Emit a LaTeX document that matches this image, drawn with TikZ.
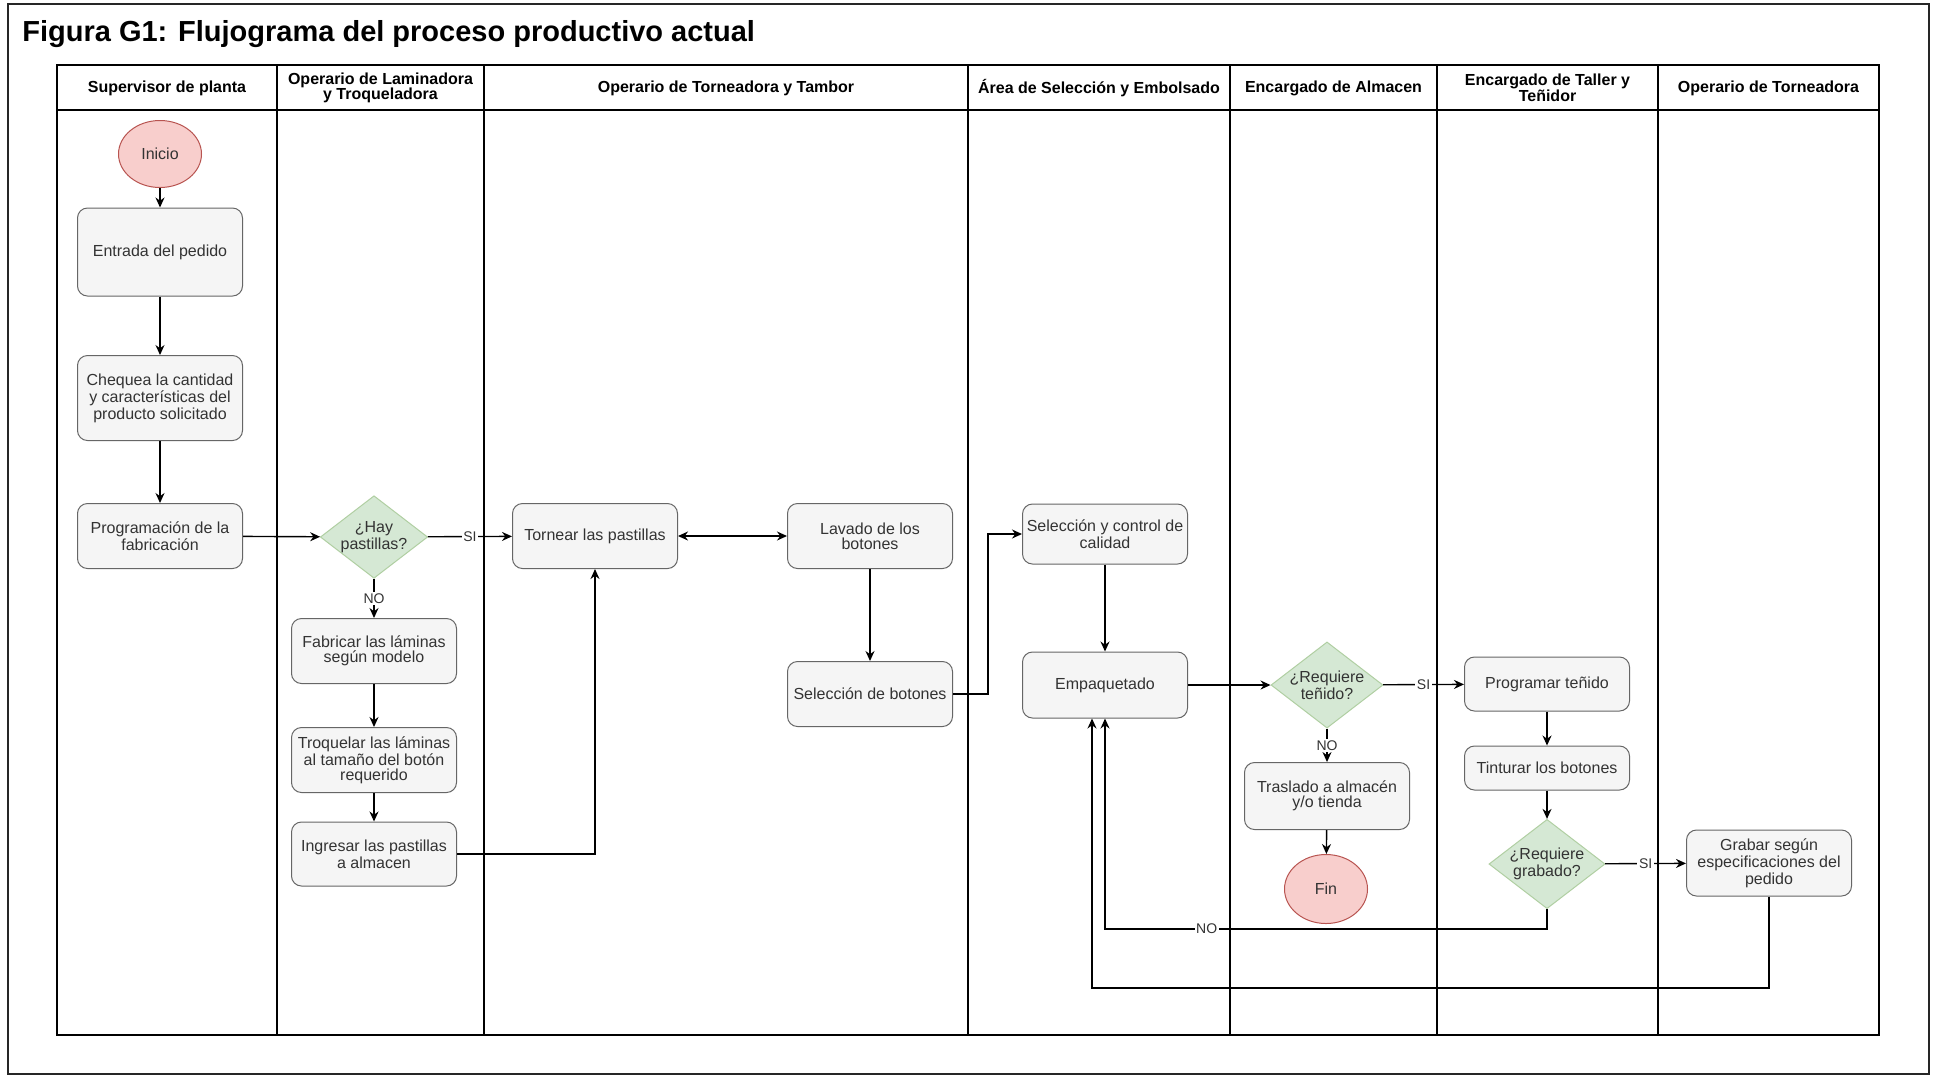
\documentclass[tikz,border=0pt]{standalone}
\usepackage{fontspec}
\setmainfont{Liberation Sans}
\usetikzlibrary{shapes.geometric,arrows.meta}
\definecolor{boxfill}{HTML}{F5F5F5}
\definecolor{boxdraw}{HTML}{666666}
\definecolor{txt}{HTML}{333333}
\definecolor{pinkfill}{HTML}{F8CECC}
\definecolor{pinkdraw}{HTML}{B85450}
\definecolor{greenfill}{HTML}{D5E8D4}
\definecolor{greendraw}{HTML}{B0CFA2}
\begin{document}
\begin{tikzpicture}[x=0.5pt,y=-0.5pt,
  proc/.style={draw=boxdraw, fill=boxfill, rounded corners=5pt, line width=0.5pt,
    minimum width=82.5pt, align=center, text=txt, inner sep=1pt,
    font=\fontsize{8}{7.3}\selectfont},
  term/.style={ellipse, draw=pinkdraw, fill=pinkfill, line width=0.5pt,
    minimum width=41.5pt, minimum height=33.5pt, inner sep=0pt, text=txt,
    font=\fontsize{8}{7.3}\selectfont},
  decis/.style={diamond, shape aspect=1.3, draw=greendraw, fill=greenfill, line width=0.5pt,
    minimum width=51pt, minimum height=40pt, inner sep=0pt, align=center, text=txt,
    font=\fontsize{8}{7.3}\selectfont},
  lanehead/.style={align=center, font=\bfseries\fontsize{8}{7.8}\selectfont},
  arr/.style={-{Stealth[length=5pt,width=4.5pt]}, line width=0.7pt},
  dbl/.style={{Stealth[length=5pt,width=4.5pt]}-{Stealth[length=5pt,width=4.5pt]}, line width=0.7pt},
  lbl/.style={fill=white, inner sep=0.8pt, font=\fontsize{7}{7}\selectfont, text=txt},
  lane/.style={line width=0.75pt}
]
\useasboundingbox (0,0) rectangle (1936,1078);
\fill[white] (0,0) rectangle (1936,1078);
% outer frame
\draw[line width=0.8pt, black!85] (8,4) rectangle (1929,1074);
\node[anchor=west, inner sep=0pt, font=\bfseries\fontsize{14.5}{14.5}\selectfont] (title) at (22,34) {Figura G1: Flujograma del proceso productivo actual};

% swimlanes
\draw[lane] (57,65) rectangle (1879,1035);
\draw[lane] (57,110) -- (1879,110);
\foreach \xx in {277,484,968,1230,1437,1658} \draw[lane] (\xx,65) -- (\xx,1035);
\node[lanehead] (h1) at (167,88) {Supervisor de planta};
\node[lanehead] (h2) at (380.5,88) {Operario de Laminadora\\y Troqueladora};
\node[lanehead] (h3) at (726,88) {Operario de Torneadora y Tambor};
\node[lanehead] (h4) at (1099,88) {Área de Selección y Embolsado};
\node[lanehead] (h5) at (1333.5,88) {Encargado de Almacen};
\node[lanehead] (h6) at (1547.5,88) {Encargado de Taller y\\Teñidor};
\node[lanehead] (h7) at (1768.5,88) {Operario de Torneadora};

% nodes
\node[term] (ini) at (160,154) {Inicio};
\node[proc, minimum height=44pt] (ent) at (160,252) {Entrada del pedido};
\node[proc, minimum height=42.5pt] (che) at (160,398) {Chequea la cantidad\\y características del\\producto solicitado};
\node[proc, minimum height=32.5pt] (prog) at (160,536) {Programación de la\\fabricación};
\node[decis] (hay) at (374,537) {¿Hay\\pastillas?};
\node[proc, minimum height=32.5pt] (fab) at (374,651) {Fabricar las láminas\\según modelo};
\node[proc, minimum height=32.5pt] (troq) at (374,760) {Troquelar las láminas\\al tamaño del botón\\requerido};
\node[proc, minimum height=32pt] (ingr) at (374,854) {Ingresar las pastillas\\a almacen};
\node[proc, minimum height=32.5pt] (torn) at (595,536) {Tornear las pastillas};
\node[proc, minimum height=32.5pt] (lav) at (870,536) {Lavado de los\\botones};
\node[proc, minimum height=32.5pt] (selb) at (870,694) {Selección de botones};
\node[proc, minimum height=30pt] (selc) at (1105,534) {Selección y control de\\calidad};
\node[proc, minimum height=33pt] (emp) at (1105,685) {Empaquetado};
\node[decis, minimum height=41.5pt] (rten) at (1327,685) {¿Requiere\\teñido?};
\node[proc, minimum height=33.5pt] (tras) at (1327,796) {Traslado a almacén\\y/o tienda};
\node[term, minimum height=34.5pt] (fin) at (1326,889) {Fin};
\node[proc, minimum height=27pt] (prt) at (1547,684) {Programar teñido};
\node[proc, minimum height=22pt] (tint) at (1547,768) {Tinturar los botones};
\node[decis, minimum height=42.5pt] (rgr) at (1547,864) {¿Requiere\\grabado?};
\node[proc, minimum height=33pt] (grab) at (1769,863) {Grabar según\\especificaciones del\\pedido};

\coordinate (yNO) at (0,929);
\coordinate (yGR) at (0,988);
\coordinate (e2) at ([xshift=-6.5pt]emp.south);
\coordinate (bend1) at (988,694);

% connectors
\draw[arr] (ini) -- (ent);
\draw[arr] (ent) -- (che);
\draw[arr] (che) -- (prog);
\draw[arr] (prog) -- (hay);
\draw[arr] (hay) -- node[lbl]{SI} (torn);
\draw[arr] (hay) -- node[lbl]{NO} (fab);
\draw[arr] (fab) -- (troq);
\draw[arr] (troq) -- (ingr);
\draw[arr] (ingr.east) -| (torn.south);
\draw[dbl] (torn) -- (lav);
\draw[arr] (lav) -- (selb);
\draw[arr] (selb.east) -- (bend1) |- (selc.west);
\draw[arr] (selc) -- (emp);
\draw[arr] (emp) -- (rten);
\draw[arr] (rten) -- node[lbl]{SI} (prt);
\draw[arr] (rten) -- node[lbl]{NO} (tras);
\draw[arr] (tras) -- (fin);
\draw[arr] (prt) -- (tint);
\draw[arr] (tint) -- (rgr);
\draw[arr] (rgr) -- node[lbl]{SI} (grab);
\draw[arr] (rgr.south) -- (rgr.south |- yNO) -- node[lbl, pos=0.77]{NO} (emp.south |- yNO) -- (emp.south);
\draw[arr] (grab.south) -- (grab.south |- yGR) -- (e2 |- yGR) -- (e2);
\end{tikzpicture}
\end{document}
